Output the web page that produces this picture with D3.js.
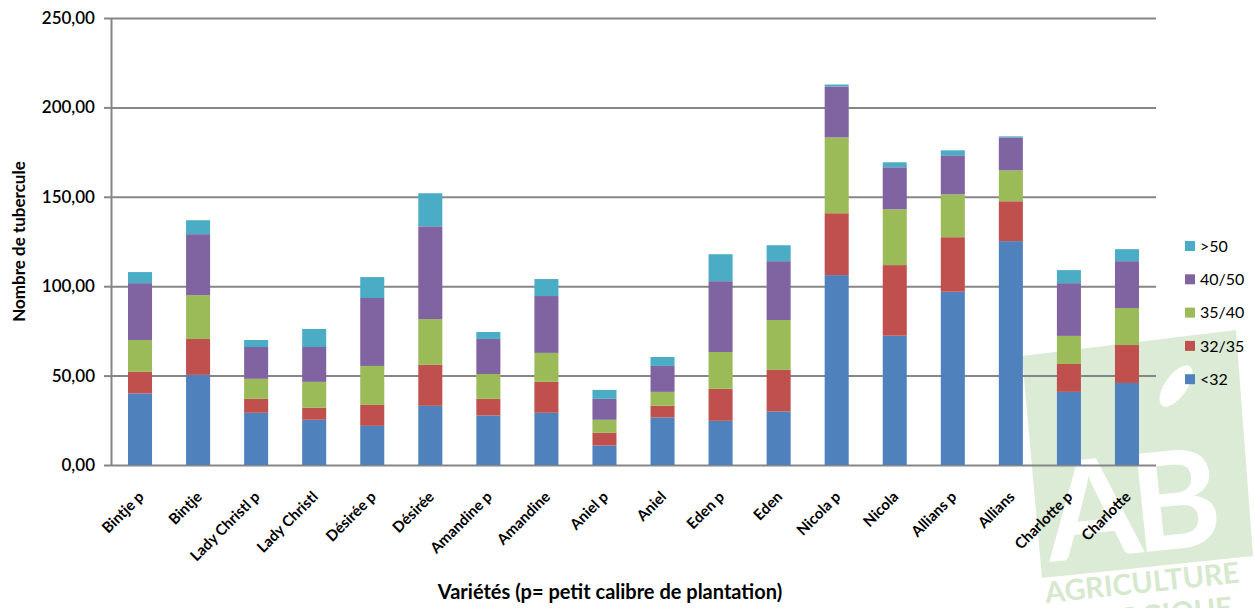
<!DOCTYPE html>
<html>
<head>
<meta charset="utf-8">
<script src="https://cdn.jsdelivr.net/npm/d3@7"></script>
<style>
  body { margin: 0; background: #fff; }
  svg { display: block; font-family: Lato, "Open Sans", sans-serif; }
</style>
</head>
<body>
<svg width="1255" height="608"></svg>
<script>
var categories = ["Bintje p", "Bintje", "Lady Christl p", "Lady Christl", "Désirée p", "Désirée", "Amandine p", "Amandine", "Aniel p", "Aniel", "Eden p", "Eden", "Nicola p", "Nicola", "Allians p", "Allians", "Charlotte p", "Charlotte"];
var seriesNames = ["<32", "32/35", "35/40", "40/50", ">50"];
var lt32 =  [40.0, 50.4, 29.2, 25.3, 21.9, 33.1, 27.7, 29.2, 10.9, 26.6, 24.7, 29.9, 106.2, 72.3, 96.9, 125.2, 40.9, 45.9];
var s3235 = [12.1, 20.1, 7.8, 6.7, 11.7, 22.9, 9.3, 17.3, 7.1, 6.5, 17.9, 23.3, 34.6, 39.5, 30.5, 22.3, 15.6, 21.2];
var s3540 = [17.8, 24.5, 11.2, 14.5, 21.8, 25.6, 13.9, 16.2, 7.3, 7.8, 20.6, 27.9, 42.4, 31.2, 24.0, 17.3, 15.7, 20.7];
var s4050 = [31.8, 34.1, 17.8, 19.5, 38.0, 51.9, 19.6, 31.8, 11.7, 14.5, 39.6, 32.9, 28.5, 23.5, 21.8, 18.4, 29.5, 26.2];
var gt50 =  [6.2, 7.8, 3.9, 10.1, 11.7, 18.5, 3.9, 9.5, 5.0, 5.0, 15.1, 8.9, 1.1, 2.8, 2.8, 0.6, 7.3, 6.7];
var yTicks = [0, 50, 100, 150, 200, 250];
var colors = ["#4f81bd", "#c0504d", "#9bbb59", "#8064a2", "#4bacc6"];

var svg = d3.select("svg");
var plotLeft = 111, plotRight = 1156, plotTop = 18, plotBottom = 465;

// watermark logo (behind the chart)
var logo = svg.append("g");
logo.append("polygon")
    .attr("points", "1022,356 1236,330 1253,556 1042,578")
    .attr("fill", "#dcebd5");
logo.append("text")
    .attr("transform", "translate(1050,562) rotate(-6)")
    .attr("fill", "#fff")
    .style("font-size", "136px")
    .style("font-weight", "bold")
    .style("letter-spacing", "-8px")
    .text("AB");
logo.append("ellipse")
    .attr("cx", 1176).attr("cy", 386).attr("rx", 11).attr("ry", 24)
    .attr("transform", "rotate(35,1176,386)")
    .attr("fill", "#fff");
logo.append("text")
    .attr("transform", "translate(1046,603) rotate(-6)")
    .attr("fill", "#d6e8ce")
    .style("font-size", "29px")
    .style("font-weight", "bold")
    .text("AGRICULTURE");
logo.append("text")
    .attr("transform", "translate(1054,636) rotate(-6)")
    .attr("fill", "#d6e8ce")
    .style("font-size", "29px")
    .style("font-weight", "bold")
    .text("BIOLOGIQUE");

var x = d3.scaleBand().domain(categories).range([plotLeft, plotRight]).paddingInner(0.586).paddingOuter(0.293);
var y = d3.scaleLinear().domain([0, 250]).range([plotBottom, plotTop]);

var fmt = function(d) { return d3.format(".2f")(d).replace(".", ","); };

var yAxis = svg.append("g")
    .attr("transform", "translate(" + plotLeft + ",0)")
    .call(d3.axisLeft(y).tickValues(yTicks).tickFormat(fmt).tickSizeInner(-(plotRight - plotLeft)).tickSizeOuter(0).tickPadding(16));
yAxis.selectAll("line").attr("stroke", "#868686").attr("stroke-width", 2);
yAxis.selectAll(".tick").append("line").attr("x1", -7).attr("x2", 0).attr("stroke", "#868686").attr("stroke-width", 2);
yAxis.select(".domain").attr("stroke", "#868686").attr("stroke-width", 2);
yAxis.selectAll("text").style("font-size", "17px").style("font-family", "Lato").style("font-weight", "600").attr("fill", "#000");

var rows = categories.map(function(c, i) {
    return {cat: c, "<32": lt32[i], "32/35": s3235[i], "35/40": s3540[i], "40/50": s4050[i], ">50": gt50[i]};
});
var stacked = d3.stack().keys(seriesNames)(rows);

svg.append("g").selectAll("g")
    .data(stacked)
    .enter().append("g")
    .attr("fill", function(d, i) { return colors[i]; })
    .selectAll("rect")
    .data(function(d) { return d; })
    .enter().append("rect")
    .attr("x", function(d) { return x(d.data.cat); })
    .attr("y", function(d) { return y(d[1]); })
    .attr("width", x.bandwidth())
    .attr("height", function(d) { return y(d[0]) - y(d[1]); });

// x labels
svg.append("g").selectAll("text")
    .data(categories)
    .enter().append("text")
    .attr("transform", function(d) { return "translate(" + (x(d) + x.bandwidth() / 2 + 1) + ",494) rotate(-45)"; })
    .attr("text-anchor", "end")
    .attr("dy", "0.35em")
    .style("font-size", "15px")
    .style("font-weight", "bold")
    .text(function(d) { return d; });

svg.append("text")
    .attr("x", 610).attr("y", 599)
    .attr("text-anchor", "middle")
    .style("font-size", "20px")
    .style("font-weight", "bold")
    .text("Variétés (p= petit calibre de plantation)");

svg.append("text")
    .attr("transform", "translate(25," + ((plotTop + plotBottom) / 2) + ") rotate(-90)")
    .attr("text-anchor", "middle")
    .style("font-size", "17px")
    .style("font-weight", "bold")
    .text("Nombre de tubercule");

// legend, top entry is >50
var legendItems = seriesNames.slice().reverse();
var legend = svg.append("g").selectAll("g")
    .data(legendItems)
    .enter().append("g")
    .attr("transform", function(d, i) { return "translate(1185," + (246 + i * 33.3) + ")"; });
legend.append("rect")
    .attr("x", 0).attr("y", -5).attr("width", 10).attr("height", 10)
    .attr("fill", function(d) { return colors[seriesNames.indexOf(d)]; });
legend.append("text")
    .attr("x", 15).attr("dy", "0.36em")
    .style("font-size", "16px")
    .text(function(d) { return d; });
</script>
</body>
</html>
